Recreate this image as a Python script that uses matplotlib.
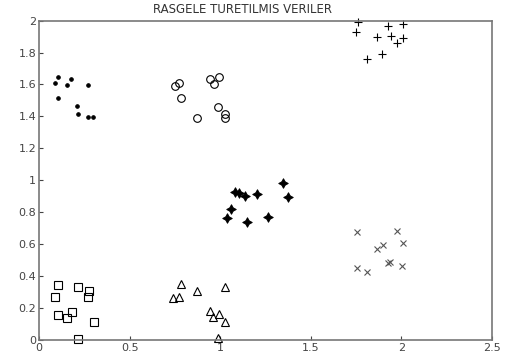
import matplotlib
matplotlib.use('Agg')
import matplotlib.pyplot as plt

# cluster data
dots_x = [0.088, 0.107, 0.156, 0.175, 0.272, 0.107, 0.210, 0.217, 0.272, 0.300]
dots_y = [1.611, 1.645, 1.597, 1.632, 1.595, 1.517, 1.463, 1.413, 1.394, 1.394]

circ_x = [0.751, 0.774, 0.784, 0.870, 0.944, 0.966, 0.993, 0.990, 1.026, 1.026]
circ_y = [1.590, 1.611, 1.513, 1.392, 1.634, 1.603, 1.647, 1.461, 1.415, 1.388]

plus_x = [1.759, 1.749, 1.928, 2.010, 1.867, 1.943, 1.974, 2.007, 1.812, 1.895]
plus_y = [1.989, 1.927, 1.968, 1.979, 1.895, 1.905, 1.858, 1.889, 1.760, 1.791]

star_x = [1.082, 1.105, 1.137, 1.201, 1.345, 1.376, 1.058, 1.036, 1.146, 1.265]
star_y = [0.929, 0.919, 0.902, 0.914, 0.985, 0.897, 0.820, 0.766, 0.737, 0.768]

sq_x = [0.107, 0.088, 0.217, 0.278, 0.272, 0.107, 0.156, 0.180, 0.304, 0.214]
sq_y = [0.344, 0.271, 0.334, 0.307, 0.267, 0.157, 0.140, 0.177, 0.115, 0.006]

tri_x = [0.784, 0.740, 0.773, 0.870, 1.026, 0.944, 0.959, 0.995, 1.026, 0.990]
tri_y = [0.349, 0.263, 0.269, 0.307, 0.334, 0.183, 0.142, 0.163, 0.115, 0.011]

cross_x = [1.753, 1.974, 1.897, 1.867, 2.010, 1.937, 1.928, 2.002, 1.757, 1.808]
cross_y = [0.674, 0.684, 0.595, 0.568, 0.606, 0.490, 0.480, 0.463, 0.449, 0.424]

xticks = [0, 0.5, 1, 1.5, 2, 2.5]
xtick_labels = ['0', '0.5', '1', '1.5', '2', '2.5']
yticks = [0, 0.2, 0.4, 0.6, 0.8, 1, 1.2, 1.4, 1.6, 1.8, 2]
ytick_labels = ['0', '0.2', '0.4', '0.6', '0.8', '1', '1.2', '1.4', '1.6', '1.8', '2']

fig = plt.figure(figsize=(5.13, 3.62), dpi=100)
ax = fig.add_axes([0.076, 0.061, 0.883, 0.882])

k = dict(color='black', linestyle='none', clip_on=False, markeredgewidth=0.8)
ax.plot(dots_x, dots_y, marker='o', markersize=2.5, **k)
ax.plot(circ_x, circ_y, marker='o', markersize=5.5, markerfacecolor='none', **k)
ax.plot(plus_x, plus_y, marker='+', markersize=6, **k)
ax.plot(star_x, star_y, marker=(4, 1, 0), markersize=7, **{**k, 'markeredgewidth': 0.6})
ax.plot(sq_x, sq_y, marker='s', markersize=5.5, markerfacecolor='none', **k)
ax.plot(tri_x, tri_y, marker='^', markersize=5.5, markerfacecolor='none', **k)
ax.plot(cross_x, cross_y, marker='x', markersize=4.5, **{**k, 'color': '#555555'})

ax.set_xlim(0, 2.5)
ax.set_ylim(0, 2)
ax.set_xticks(xticks)
ax.set_xticklabels(xtick_labels)
ax.set_yticks(yticks)
ax.set_yticklabels(ytick_labels)
ax.tick_params(direction='in', length=3, width=0.8, labelsize=8,
               colors='#444444', pad=2)
for s in ax.spines.values():
    s.set_color('#777777')
    s.set_linewidth(1.2)

ax.text(0.45, 1.035, 'RASGELE TURETILMIS VERILER', transform=ax.transAxes,
        ha='center', va='center', fontsize=8.5, color='#333333')

fig.savefig('out.png', dpi=100)
